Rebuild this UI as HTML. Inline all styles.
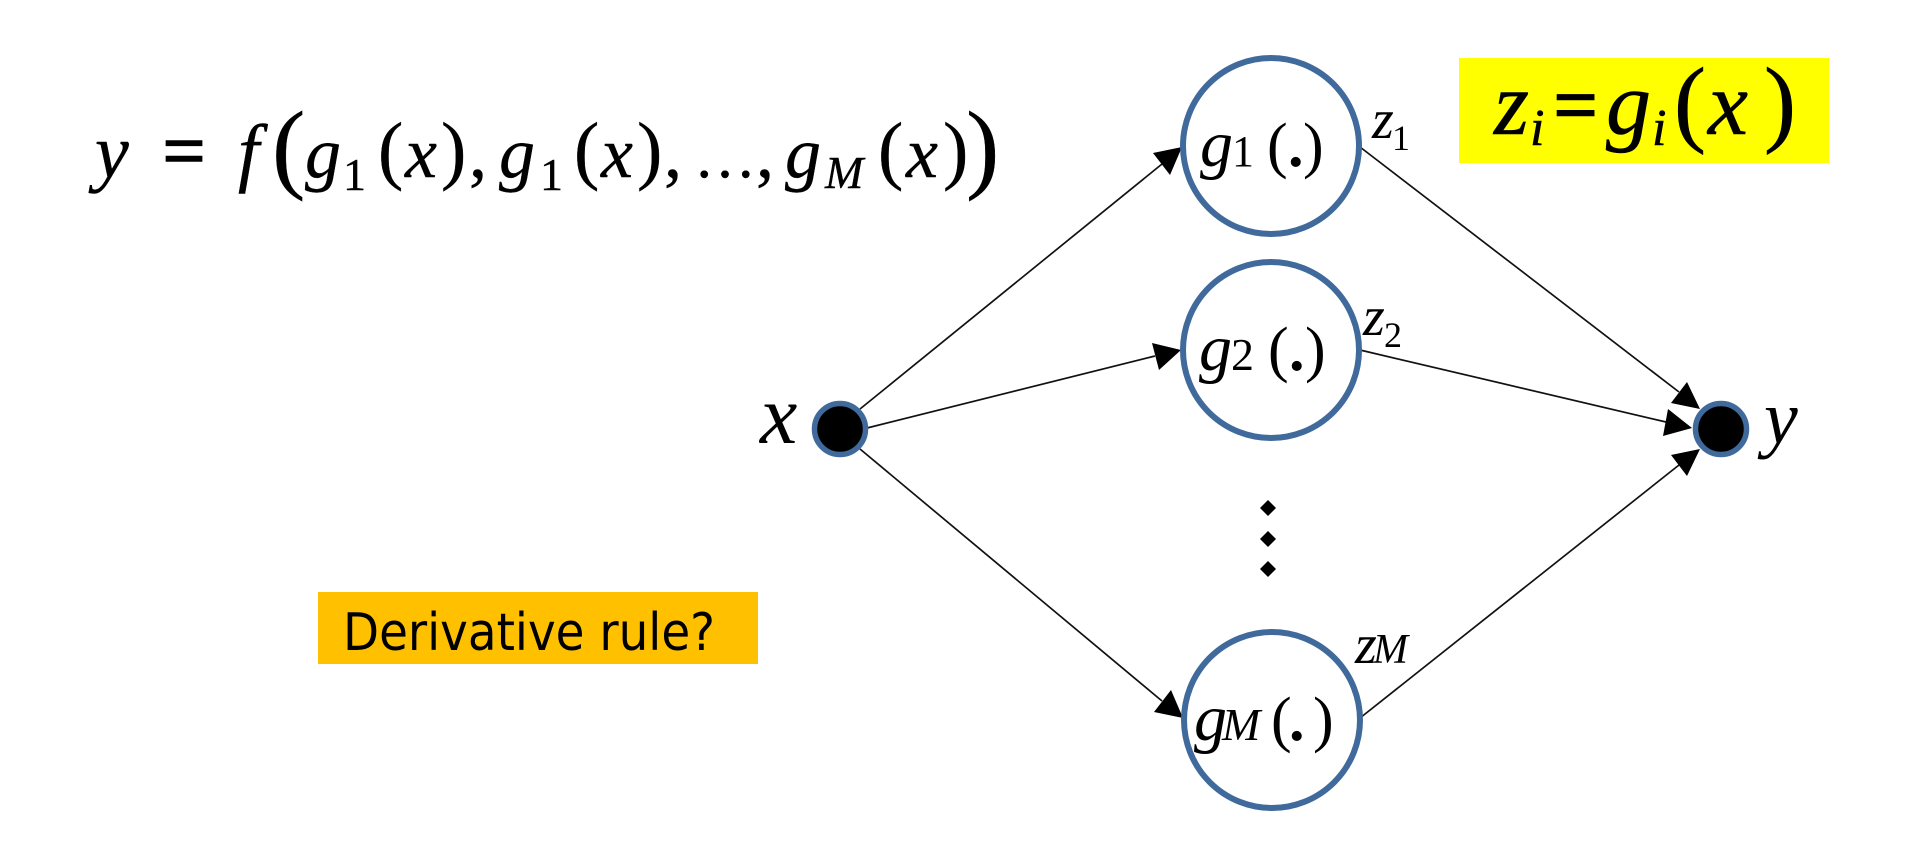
<!DOCTYPE html>
<html lang="en">
<head>
<meta charset="utf-8">
<title>Composite function derivative diagram</title>
<style>
html,body{margin:0;padding:0;background:#fff;width:1920px;height:857px;overflow:hidden}
svg{display:block}
text{fill:#000}
.m{font-family:"Liberation Serif",serif;font-style:italic}
.u{font-family:"Liberation Serif",serif}
</style>
</head>
<body>
<svg width="1920" height="857" viewBox="0 0 1920 857">
  <rect x="0" y="0" width="1920" height="857" fill="#fff"/>

  <g stroke="#000" stroke-width=".4">
    <text class="m" font-size="76" x="95" y="177">y</text>
    <text class="u" font-size="78" x="162" y="177" font-weight="bold">=</text>
    <text class="m" font-size="76" x="238" y="177">f</text>
    <text class="u" font-size="100" x="272" y="180">(</text>
    <text class="m" font-size="72" x="305" y="177">g</text>
    <text class="u" font-size="46" x="343" y="190">1</text>
    <text class="u" font-size="76" x="378" y="175">(</text>
    <text class="m" font-size="72" x="405" y="177">x</text>
    <text class="u" font-size="76" x="441" y="175">)</text>
    <text class="u" font-size="72" x="469" y="177">,</text>
    <text class="m" font-size="72" x="499" y="177">g</text>
    <text class="u" font-size="46" x="540" y="190">1</text>
    <text class="u" font-size="76" x="574" y="175">(</text>
    <text class="m" font-size="72" x="601" y="177">x</text>
    <text class="u" font-size="76" x="637" y="175">)</text>
    <text class="u" font-size="72" x="664" y="177">,</text>
    <text class="u" font-size="62" x="694" y="177">…</text>
    <text class="u" font-size="72" x="756" y="177">,</text>
    <text class="m" font-size="72" x="785" y="177">g</text>
    <text class="m" font-size="46" x="825" y="188">M</text>
    <text class="u" font-size="76" x="878" y="175">(</text>
    <text class="m" font-size="72" x="906" y="177">x</text>
    <text class="u" font-size="76" x="943" y="175">)</text>
    <text class="u" font-size="100" x="966" y="180">)</text>
  </g>

  <rect x="1459" y="58" width="370" height="105" fill="#ffff00"/>
  <g stroke="#000" stroke-width=".6">
    <text class="m" font-size="90" x="1494" y="134">z</text>
    <text class="m" font-size="52" x="1530" y="145">i</text>
    <text class="u" font-size="80" x="1553" y="132" font-weight="bold">=</text>
    <text class="m" font-size="90" x="1606" y="134">g</text>
    <text class="m" font-size="52" x="1652" y="145">i</text>
    <text class="u" font-size="96" x="1674" y="134">(</text>
    <text class="m" font-size="90" x="1708" y="134">x</text>
    <text class="u" font-size="96" x="1764" y="134">)</text>
  </g>

  <rect x="318" y="592" width="440" height="72" fill="#ffc000"/>
  <text x="343" y="650" font-family="'Comic Sans MS','DejaVu Sans',sans-serif" font-size="52" textLength="372" lengthAdjust="spacingAndGlyphs">Derivative rule?</text>

  <g stroke="#111" stroke-width="1.7" fill="none">
    <line x1="860" y1="409" x2="1162" y2="164"/>
    <line x1="867" y1="428" x2="1155" y2="356"/>
    <line x1="860" y1="449" x2="1162" y2="701"/>
    <line x1="1360" y1="147" x2="1679" y2="392"/>
    <line x1="1360" y1="350" x2="1666" y2="422"/>
    <line x1="1360" y1="718" x2="1679" y2="465"/>
  </g>
  <g fill="#000">
    <polygon points="1182,147 1153,153 1170,175"/>
    <polygon points="1181,350 1152,343 1159,370"/>
    <polygon points="1183,718 1154,712 1171,690"/>
    <polygon points="1700,409 1687,382 1671,403"/>
    <polygon points="1692,428 1668,409 1663,436"/>
    <polygon points="1700,449 1671,455 1687,476"/>
  </g>

  <circle cx="840" cy="429" r="25.5" fill="#000" stroke="#3f6a9b" stroke-width="5.5"/>
  <circle cx="1721" cy="429" r="25.5" fill="#000" stroke="#3f6a9b" stroke-width="5.5"/>
  <g fill="#fff" stroke="#3f6a9b" stroke-width="6">
    <circle cx="1271" cy="146" r="88"/>
    <circle cx="1271" cy="350" r="88"/>
    <circle cx="1272" cy="720" r="88"/>
  </g>

  <text class="m" font-size="84" x="760" y="443">x</text>
  <text class="m" font-size="76" x="1764" y="443">y</text>

  <g>
    <text class="m" font-size="66" x="1200" y="166">g</text>
    <text class="u" font-size="44" x="1232" y="166">1</text>
    <text class="u" font-size="62" x="1267" y="166">(</text>
    <text class="u" font-size="62" x="1288" y="166" font-weight="bold">.</text>
    <text class="u" font-size="62" x="1303" y="166">)</text>
  </g>
  <g>
    <text class="m" font-size="66" x="1199" y="370">g</text>
    <text class="u" font-size="46" x="1231" y="370">2</text>
    <text class="u" font-size="62" x="1268" y="370">(</text>
    <text class="u" font-size="62" x="1289" y="370" font-weight="bold">.</text>
    <text class="u" font-size="62" x="1305" y="370">)</text>
  </g>
  <g>
    <text class="m" font-size="66" x="1194" y="740">g</text>
    <text class="m" font-size="46" x="1222" y="740">M</text>
    <text class="u" font-size="62" x="1271" y="740">(</text>
    <text class="u" font-size="62" x="1289" y="740" font-weight="bold">.</text>
    <text class="u" font-size="62" x="1313" y="740">)</text>
  </g>

  <g>
    <text class="m" font-size="56" x="1372" y="138">z</text>
    <text class="u" font-size="36" x="1392" y="150">1</text>
  </g>
  <g>
    <text class="m" font-size="56" x="1363" y="335">z</text>
    <text class="u" font-size="36" x="1384" y="347">2</text>
  </g>
  <g>
    <text class="m" font-size="56" x="1355" y="663">z</text>
    <text class="m" font-size="42" x="1373" y="663">M</text>
  </g>

  <g fill="#000">
    <polygon points="1268,500 1276,508 1268,516 1260,508"/>
    <polygon points="1268,531 1276,539 1268,547 1260,539"/>
    <polygon points="1268,561 1276,569 1268,577 1260,569"/>
  </g>
</svg>
</body>
</html>
